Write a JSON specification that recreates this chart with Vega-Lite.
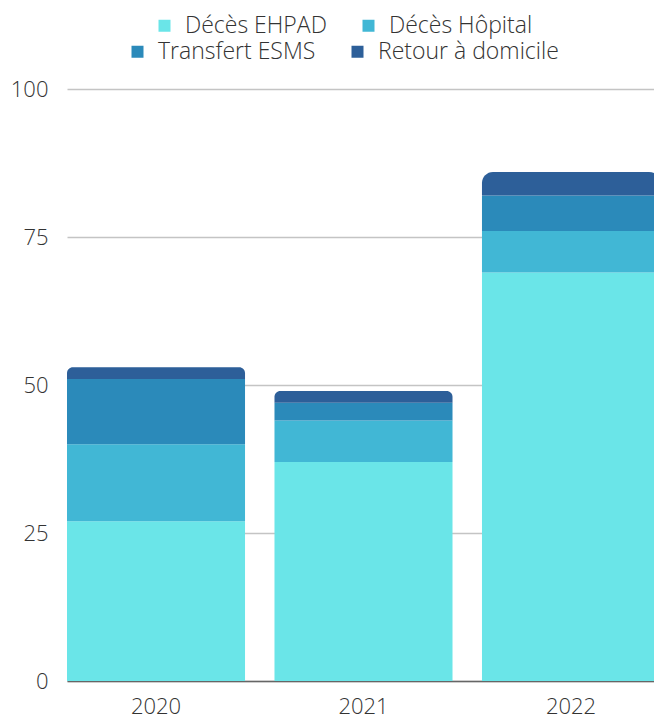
{
  "$schema": "https://vega.github.io/schema/vega-lite/v6.json",
  "width": 587,
  "height": 592,
  "autosize": "none",
  "padding": {"left": 67, "top": 89, "right": 0, "bottom": 36},
  "config": {
    "view": {"stroke": null},
    "font": "Open Sans",
    "axis": {"labelFont": "Open Sans", "labelFontWeight": 300, "labelColor": "#333333", "labelFontSize": 22},
    "legend": {"labelFont": "Open Sans", "labelFontWeight": 300, "labelColor": "#333333", "labelFontSize": 23, "labelLimit": 400}
  },
  "data": {
    "values": [
      {"annee": "2020", "categorie": "Décès EHPAD", "valeur": 27},
      {"annee": "2020", "categorie": "Décès Hôpital", "valeur": 13},
      {"annee": "2020", "categorie": "Transfert ESMS", "valeur": 11},
      {"annee": "2020", "categorie": "Retour à domicile", "valeur": 2},
      {"annee": "2021", "categorie": "Décès EHPAD", "valeur": 37},
      {"annee": "2021", "categorie": "Décès Hôpital", "valeur": 7},
      {"annee": "2021", "categorie": "Transfert ESMS", "valeur": 3},
      {"annee": "2021", "categorie": "Retour à domicile", "valeur": 2},
      {"annee": "2022", "categorie": "Décès EHPAD", "valeur": 69},
      {"annee": "2022", "categorie": "Décès Hôpital", "valeur": 7},
      {"annee": "2022", "categorie": "Transfert ESMS", "valeur": 6},
      {"annee": "2022", "categorie": "Retour à domicile", "valeur": 4}
    ]
  },
  "transform": [
    {"stack": "valeur", "groupby": ["annee"], "as": ["y0", "y1"]}
  ],
  "encoding": {
    "x": {
      "field": "annee",
      "type": "ordinal",
      "scale": {"range": [0, 593], "paddingInner": 0.142, "paddingOuter": 0},
      "axis": {"title": null, "labelAngle": 0, "ticks": false, "grid": false, "domainColor": "#666666", "domainWidth": 1.5, "labelPadding": 15}
    },
    "y": {
      "field": "y1",
      "type": "quantitative",
      "scale": {"domain": [0, 100]},
      "axis": {"title": null, "values": [0, 25, 50, 75, 100], "ticks": false, "domain": false, "gridColor": "#c4c4c4", "gridWidth": 1.5, "labelPadding": 19}
    },
    "y2": {"field": "y0"}
  },
  "layer": [
    {
      "transform": [{"filter": "datum.categorie == 'Décès EHPAD' || datum.categorie == 'Décès Hôpital'"}],
      "mark": {"type": "bar", "clip": true},
      "encoding": {
        "fill": {
          "field": "categorie",
          "type": "nominal",
          "scale": {"domain": ["Décès EHPAD", "Décès Hôpital"], "range": ["#6ae5e8", "#41b7d5"]},
          "legend": {"title": null, "orient": "none", "direction": "horizontal", "legendX": 86, "legendY": -75, "symbolType": "square", "symbolSize": 144, "symbolStrokeWidth": 0, "labelOffset": 9, "columnPadding": 30}
        }
      }
    },
    {
      "transform": [{"filter": "datum.categorie == 'Transfert ESMS'"}],
      "mark": {"type": "bar", "clip": true},
      "encoding": {
        "color": {
          "field": "categorie",
          "type": "nominal",
          "scale": {"domain": ["Transfert ESMS", "Retour à domicile"], "range": ["#2b8aba", "#2d5f99"]},
          "legend": {"title": null, "orient": "none", "direction": "horizontal", "legendX": 59, "legendY": -49, "symbolType": "square", "symbolSize": 144, "symbolStrokeWidth": 0, "labelOffset": 9, "columnPadding": 30}
        }
      }
    },
    {
      "transform": [{"filter": "datum.categorie == 'Retour à domicile'"}],
      "mark": {"type": "bar", "clip": true, "cornerRadiusTopLeft": 11, "cornerRadiusTopRight": 11},
      "encoding": {
        "color": {
          "field": "categorie",
          "type": "nominal",
          "scale": {"domain": ["Transfert ESMS", "Retour à domicile"], "range": ["#2b8aba", "#2d5f99"]},
          "legend": {"title": null, "orient": "none", "direction": "horizontal", "legendX": 59, "legendY": -49, "symbolType": "square", "symbolSize": 144, "symbolStrokeWidth": 0, "labelOffset": 9, "columnPadding": 30}
        }
      }
    }
  ]
}
